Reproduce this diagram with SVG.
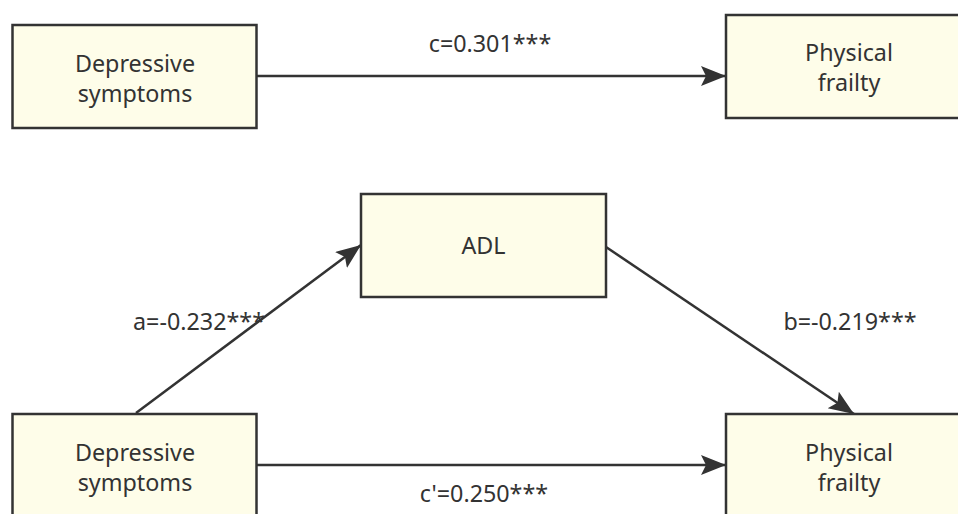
<svg xmlns="http://www.w3.org/2000/svg" width="958" height="514" viewBox="0 0 958 514">
<style>
.box{fill:#fefde9;stroke:#333;stroke-width:2.5}
.t{font-family:"Noto Sans","Open Sans",sans-serif;font-size:23.3px;fill:#333;text-anchor:middle}
.e{stroke:#333;stroke-width:2.5;fill:none;marker-end:url(#ah)}
</style>
<defs>
<marker id="ah" markerUnits="userSpaceOnUse" markerWidth="28" markerHeight="22" refX="25" refY="10" orient="auto">
<path d="M0,0 L25,10 L0,20 L5,10 Z" fill="#333"/>
</marker>
</defs>
<rect width="958" height="514" fill="#fff"/>
<g id="connectors">
<line class="e" x1="257" y1="76" x2="726" y2="76"/>
<line class="e" x1="136" y1="413" x2="361" y2="245"/>
<line class="e" x1="606" y1="247" x2="854" y2="414"/>
<line class="e" x1="257" y1="465" x2="726" y2="465"/>
<text class="t" x="490" y="52">c=0.301***</text>
<text class="t" x="199" y="330">a=-0.232***</text>
<text class="t" x="850" y="330">b=-0.219***</text>
<text class="t" x="484" y="502">c'=0.250***</text>
</g>
<g id="dep1">
<rect class="box" x="12.5" y="25" width="244" height="103"/>
<text class="t" x="135" y="72">Depressive</text>
<text class="t" x="135" y="102">symptoms</text>
</g>
<g id="frail1">
<rect class="box" x="726" y="15" width="250" height="103"/>
<text class="t" x="849" y="61">Physical</text>
<text class="t" x="849" y="91">frailty</text>
</g>
<g id="adl">
<rect class="box" x="361" y="194" width="245" height="103"/>
<text class="t" x="483.5" y="254">ADL</text>
</g>
<g id="dep2">
<rect class="box" x="12.5" y="414" width="244" height="110"/>
<text class="t" x="135" y="461">Depressive</text>
<text class="t" x="135" y="491">symptoms</text>
</g>
<g id="frail2">
<rect class="box" x="726" y="414" width="250" height="110"/>
<text class="t" x="849" y="461">Physical</text>
<text class="t" x="849" y="491">frailty</text>
</g>
</svg>
